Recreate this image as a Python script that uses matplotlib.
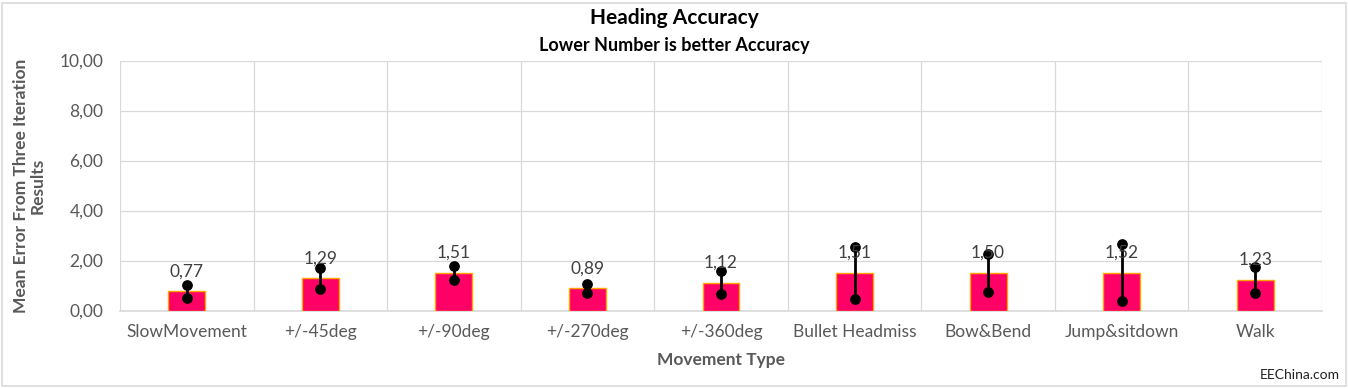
import matplotlib
matplotlib.use("Agg")
import matplotlib.pyplot as plt
import numpy as np
from matplotlib.patches import Rectangle

categories = ["SlowMovement", "+/-45deg", "+/-90deg", "+/-270deg", "+/-360deg",
              "Bullet Headmiss", "Bow&Bend", "Jump&sitdown", "Walk"]
mean_err = [0.77, 1.29, 1.51, 0.89, 1.12, 1.51, 1.50, 1.52, 1.23]
low_err = [0.49, 0.85, 1.22, 0.69, 0.65, 0.46, 0.74, 0.39, 0.71]
high_err = [1.02, 1.71, 1.78, 1.06, 1.58, 2.55, 2.25, 2.65, 1.75]
yticks = [0, 2, 4, 6, 8, 10]

FONT = ["Lato", "DejaVu Sans"]
plt.rcParams['font.family'] = FONT

fig = plt.figure(figsize=(13.48, 3.88), dpi=100)
ax = fig.add_axes([120/1348, 1-310.5/388, (1322-120)/1348, 250/388])

x = np.arange(len(categories))
ax.bar(x, mean_err, width=0.277, color="#FF0066", edgecolor="#FFA500", linewidth=1.0, zorder=3)
ax.vlines(x, low_err, high_err, color="black", linewidth=2, zorder=4)
ax.scatter(x, low_err, s=45, color="black", zorder=5)
ax.scatter(x, high_err, s=45, color="black", zorder=5)

for xi, v in zip(x, mean_err):
    ax.annotate(f"{v:.2f}".replace(".", ","), (xi, v), xytext=(0, 20), textcoords="offset pixels",
                ha="center", va="center", fontsize=12.5, color="#404040", zorder=6)

ax.set_xlim(-0.5, len(categories) - 0.5)
ax.set_ylim(0, 10)
ax.set_yticks(yticks)
ax.set_yticklabels([f"{t:.2f}".replace(".", ",") for t in yticks], fontsize=12.5, color="#595959")
ax.set_xticks(x)
ax.set_xticklabels(categories, fontsize=12.5, color="#595959")
ax.tick_params(length=0, pad=10)
ax.tick_params(axis="y", pad=12)

# gridlines
grid_kw = dict(color="#D9D9D9", linewidth=0.9, zorder=1)
for yv in yticks[1:]:
    ax.axhline(yv, **grid_kw)
for b in np.arange(-0.5, len(categories) + 0.5, 1.0):
    ax.axvline(b, **grid_kw)
for s in ["top", "right", "left"]:
    ax.spines[s].set_visible(False)
ax.spines["bottom"].set_color("#D9D9D9")
ax.spines["bottom"].set_linewidth(1.2)

ax.set_xlabel("Movement Type", fontsize=12.5, fontweight="bold", color="#595959", labelpad=8)
ax.set_ylabel("Mean Error From Three Iteration\nResults", fontsize=12.5, fontweight="bold",
              color="#595959", labelpad=10, linespacing=1.05)

fig.text(0.5, 1-18/388, "Heading Accuracy", ha="center", va="center", fontsize=15, fontweight="bold", color="black")
fig.text(0.5, 1-45/388, "Lower Number is better Accuracy", ha="center", va="center", fontsize=13, fontweight="bold", color="black")
fig.text(1340/1348, 1-375/388, "EEChina.com", ha="right", va="center", fontsize=10, color="#222222")

fig.patches.append(Rectangle((2/1348, 2/388), 1344/1348, 383/388, transform=fig.transFigure,
                             fill=False, edgecolor="#D9D9D9", linewidth=1.2))

fig.savefig("out.png", dpi=100)
